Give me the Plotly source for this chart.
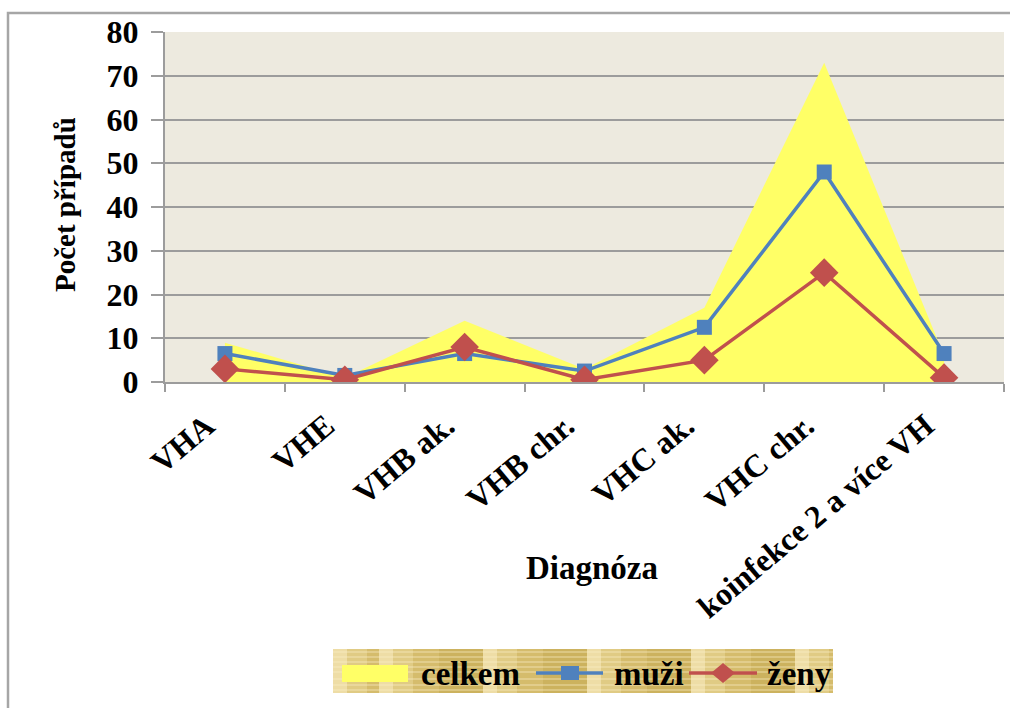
import plotly.graph_objects as go

# Hepatitis cases by diagnosis
diagnozy = ["VHA", "VHE", "VHB ak.", "VHB chr.", "VHC ak.", "VHC chr.", "koinfekce 2 a více VH"]
celkem = [9, 1, 14, 3, 17, 73, 6]
muzi = [6.5, 1.5, 6.5, 2.5, 12.5, 48, 6.5]
zeny = [3, 0.5, 8, 0.5, 5, 25, 1]
y_ticks = [0, 10, 20, 30, 40, 50, 60, 70, 80]

W, H = 1010, 708
ML, MR, MT, MB = 165, 6, 32, 326
PW, PH = W - ML - MR, H - MT - MB

FONT = "Liberation Serif"
GRID = "#9c9c9c"
YELLOW = "#FFFF66"
BLUE = "#4F81BD"
RED = "#C0504D"


def px(x):
    return (x - ML) / PW


def py(y):
    return (H - MB - y) / PH


fig = go.Figure()
fig.add_trace(go.Scatter(
    x=diagnozy, y=celkem, name="celkem", mode="lines",
    line=dict(width=0, color=YELLOW), fill="tozeroy", fillcolor=YELLOW,
))
fig.add_trace(go.Scatter(
    x=diagnozy, y=muzi, name="muži", mode="lines+markers",
    line=dict(width=3.5, color=BLUE),
    marker=dict(symbol="square", size=15, color=BLUE),
))
fig.add_trace(go.Scatter(
    x=diagnozy, y=zeny, name="ženy", mode="lines+markers",
    line=dict(width=3.5, color=RED),
    marker=dict(symbol="diamond", size=22, color=RED),
))

shapes = []
annotations = []
# outer chart frame
shapes.append(dict(type="rect", xref="paper", yref="paper",
                   x0=px(8), x1=px(1020), y0=py(13), y1=py(720),
                   line=dict(color="#a6a6a6", width=2.5), fillcolor="rgba(0,0,0,0)",
                   layer="below"))

# legend box with a textured gold background
LX0, LX1, LY0, LY1 = 333, 833, 649, 693
shapes.append(dict(type="rect", xref="paper", yref="paper",
                   x0=px(LX0), x1=px(LX1), y0=py(LY0), y1=py(LY1),
                   line=dict(width=0), fillcolor="#D5BC6C", layer="above"))
seams = [LX0, 379, 483, 587, 691, 795]
for i, s in enumerate(seams):
    e = seams[i + 1] if i + 1 < len(seams) else LX1
    shapes.append(dict(type="rect", xref="paper", yref="paper",
                       x0=px(s), x1=px(min(s + 14, e)), y0=py(LY0), y1=py(LY1),
                       line=dict(width=0), fillcolor="rgba(245,232,185,0.75)", layer="above"))
    shapes.append(dict(type="rect", xref="paper", yref="paper",
                       x0=px(min(s + 14, e)), x1=px(min(s + 34, e)), y0=py(LY0), y1=py(LY1),
                       line=dict(width=0), fillcolor="rgba(240,225,170,0.4)", layer="above"))
    shapes.append(dict(type="rect", xref="paper", yref="paper",
                       x0=px(min(s + 60, e)), x1=px(e), y0=py(LY0), y1=py(LY1),
                       line=dict(width=0), fillcolor="rgba(190,160,70,0.35)", layer="above"))
for yy in [652, 657, 662, 667, 672, 679, 685, 690]:
    shapes.append(dict(type="line", xref="paper", yref="paper",
                       x0=px(LX0), x1=px(LX1), y0=py(yy), y1=py(yy),
                       line=dict(color="rgba(250,240,200,0.7)", width=1.2), layer="above"))

# legend keys
LYC = 673
shapes.append(dict(type="rect", xref="paper", yref="paper",
                   x0=px(342), x1=px(408), y0=py(665), y1=py(682),
                   line=dict(width=0), fillcolor=YELLOW, layer="above"))
shapes.append(dict(type="line", xref="paper", yref="paper",
                   x0=px(536), x1=px(603), y0=py(LYC), y1=py(LYC),
                   line=dict(color=BLUE, width=3.5), layer="above"))
shapes.append(dict(type="rect", xref="paper", yref="paper",
                   x0=px(561), x1=px(579), y0=py(LYC - 7), y1=py(LYC + 7),
                   line=dict(width=0), fillcolor=BLUE, layer="above"))
shapes.append(dict(type="line", xref="paper", yref="paper",
                   x0=px(689), x1=px(757), y0=py(LYC), y1=py(LYC),
                   line=dict(color=RED, width=3.5), layer="above"))
shapes.append(dict(type="path", xref="paper", yref="paper",
                   path=(f"M {px(711)},{py(LYC)} L {px(723)},{py(LYC - 10)} "
                         f"L {px(735)},{py(LYC)} L {px(723)},{py(LYC + 10)} Z"),
                   line=dict(width=0), fillcolor=RED, layer="above"))
for label, xl in [("celkem", 419), ("muži", 612), ("ženy", 765)]:
    annotations.append(dict(text=f"<b>{label}</b>", xref="paper", yref="paper",
                            x=px(xl), y=py(LYC + 1), showarrow=False,
                            xanchor="left", yanchor="middle",
                            font=dict(family=FONT, size=33, color="black")))

annotations += [
    dict(text="<b>Počet případů</b>", xref="paper", yref="paper",
         x=px(65), y=py(205), textangle=-90, showarrow=False,
         font=dict(family=FONT, size=29, color="black"),
         xanchor="center", yanchor="middle"),
    dict(text="<b>Diagnóza</b>", xref="paper", yref="paper",
         x=px(592), y=py(568), showarrow=False,
         font=dict(family=FONT, size=33, color="black"),
         xanchor="center", yanchor="middle"),
]

fig.update_layout(
    width=W, height=H,
    margin=dict(l=ML, r=MR, t=MT, b=MB, pad=0),
    paper_bgcolor="white", plot_bgcolor="#EDEADF",
    font=dict(family=FONT, color="black"),
    shapes=shapes, annotations=annotations,
    showlegend=False,
)
# rotated category labels end a little before the category centre
fig.update_xaxes(
    type="category", range=[-0.5, len(diagnozy) - 0.5],
    tickson="boundaries", ticks="outside", ticklen=8, tickwidth=2, tickcolor=GRID,
    showline=True, linecolor=GRID, linewidth=2, showgrid=False,
    tickangle=-40, tickfont=dict(family=FONT, size=32, color="black"),
    ticktext=[f"<b>{d}</b>\u00a0\u00a0\u00a0" for d in diagnozy], tickvals=diagnozy,
    ticklabelstandoff=-5,
)
fig.update_yaxes(
    range=[0, 80], tickvals=y_ticks, ticktext=[f"<b>{v}</b>" for v in y_ticks],
    ticks="outside", ticklen=12, tickwidth=2, tickcolor=GRID,
    showline=True, linecolor=GRID, linewidth=2,
    showgrid=True, gridcolor=GRID, gridwidth=2, zeroline=False,
    tickfont=dict(family=FONT, size=32, color="black"),
    ticklabelstandoff=6,
)

fig.write_html("out.html")
